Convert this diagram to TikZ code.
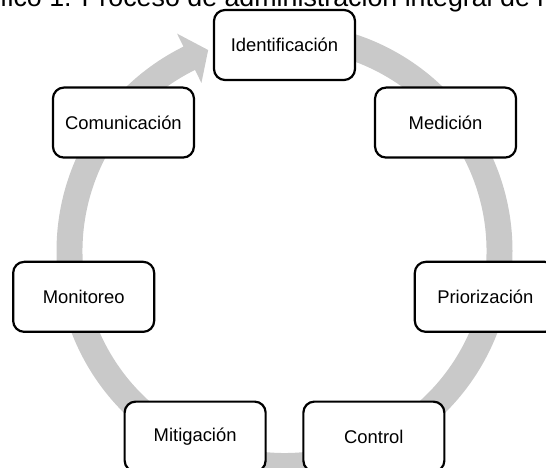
\documentclass[tikz,border=0pt]{standalone}
\usepackage{fontspec}
\setmainfont{Liberation Sans}
\definecolor{ringgray}{RGB}{201,201,201}
\begin{document}
\begin{tikzpicture}[x=1pt,y=1pt,
  cyclebox/.style={draw=black, line width=2.2pt, rounded corners=11pt, fill=white,
    minimum width=141pt, minimum height=70pt, inner sep=0pt,
    font=\fontsize{18.4}{22}\selectfont},
  titletext/.style={anchor=base west, inner sep=0pt, font=\fontsize{26.8}{30}\selectfont}]
\useasboundingbox (0,0) rectangle (546,467);
\clip (0,0) rectangle (546,467);

% heading line, cut by the top edge
\node[titletext] (title) at (0,460.5) {fico 1. Proceso de administración integral de r};

% circular arrow behind the steps
\begin{scope}[shift={(284.5,216)}]
  \fill[ringgray] (90:228) arc[start angle=90, end angle=-243.7, radius=228]
    -- (-243.7:242.5) -- (-249.2:215) -- (-243.7:187.5)
    -- (-243.7:202) arc[start angle=-243.7, end angle=90, radius=202] -- cycle;
\end{scope}

% the seven steps, evenly spaced on a circle
\begin{scope}[shift={(284.5,216)}]
  \node[cyclebox] (ident) at (90:206) {Identificación};
  \node[cyclebox] (medic) at (38.57:206) {Medición};
  \node[cyclebox] (prior) at (-12.86:206) {Priorización};
  \node[cyclebox] (contr) at (-64.29:206) {Control};
  \node[cyclebox] (mitig) at (-115.71:206) {Mitigación};
  \node[cyclebox] (monit) at (-167.14:206) {Monitoreo};
  \node[cyclebox] (comun) at (141.43:206) {Comunicación};
\end{scope}
\end{tikzpicture}
\end{document}
